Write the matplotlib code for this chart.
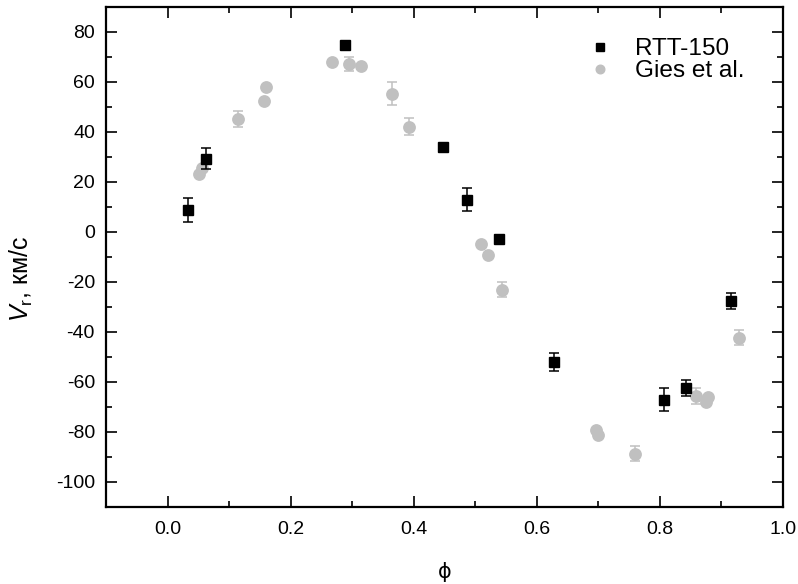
import numpy as np
import matplotlib
matplotlib.use("Agg")
import matplotlib.pyplot as plt
from matplotlib.ticker import MultipleLocator
from matplotlib.lines import Line2D

plt.rcParams['font.family'] = ['Liberation Sans', 'DejaVu Sans']
plt.rcParams['mathtext.fontset'] = 'custom'
plt.rcParams['mathtext.rm'] = 'Liberation Sans'
plt.rcParams['mathtext.it'] = 'Liberation Sans:italic'
plt.rcParams['axes.unicode_minus'] = False

# RTT-150 measurements (phase, radial velocity, error)
rtt_phase = [0.033, 0.063, 0.288, 0.448, 0.487, 0.539, 0.628, 0.807, 0.843, 0.915]
rtt_vr = [8.9, 29.3, 74.8, 34.1, 13.0, -2.8, -52.0, -67.1, -62.4, -27.5]
rtt_err = [4.9, 4.2, 0.0, 0.0, 4.7, 0.0, 3.6, 4.6, 3.3, 3.3]

# Gies et al. measurements
gies_phase = [0.051, 0.056, 0.115, 0.157, 0.160, 0.267, 0.295, 0.314, 0.365,
              0.393, 0.510, 0.521, 0.543, 0.696, 0.700, 0.759, 0.859, 0.875,
              0.878, 0.929]
gies_vr = [23.3, 25.6, 45.3, 52.4, 58.0, 68.2, 67.3, 66.4, 55.4,
           42.2, -4.7, -9.2, -23.0, -79.0, -81.2, -88.6, -65.5, -68.0,
           -65.9, -42.2]
gies_err = [0.0, 0.0, 3.1, 0.0, 0.0, 0.0, 2.9, 0.0, 4.6,
            3.3, 0.0, 0.0, 3.1, 0.0, 0.0, 3.1, 3.1, 0.0,
            0.0, 3.1]

grey = '#c0c0c0'

fig = plt.figure(figsize=(7.98, 5.84), dpi=100)
ax = fig.add_axes([106/798, 1 - 507/584, 677/798, 500/584])

ax.errorbar(gies_phase, gies_vr, yerr=gies_err, fmt='o', color=grey,
            ecolor=grey, ms=8.2, mec=grey, elinewidth=1.1, capsize=3.8,
            capthick=1.1, zorder=2)
ax.errorbar(rtt_phase, rtt_vr, yerr=rtt_err, fmt='s', color='black',
            ecolor='black', ms=7.7, elinewidth=1.1, capsize=3.8,
            capthick=1.1, zorder=3)

ax.set_xlim(-0.1, 1.0)
ax.set_ylim(-110, 90)
ax.xaxis.set_minor_locator(MultipleLocator(0.1))
ax.yaxis.set_major_locator(MultipleLocator(20))
ax.yaxis.set_minor_locator(MultipleLocator(10))
ax.set_xticks(np.arange(0.0, 1.01, 0.2))
ax.set_xticklabels(['0.0', '0.2', '0.4', '0.6', '0.8', '1.0'])

ax.tick_params(which='both', direction='in', top=True, right=True,
               labeltop=False, labelright=False, width=1.2, labelsize=14)
ax.tick_params(which='major', length=8)
ax.tick_params(which='minor', length=4.5)
ax.tick_params(axis='y', pad=8)
ax.tick_params(axis='x', pad=10)
for sp in ax.spines.values():
    sp.set_linewidth(1.6)

ax.set_xlabel('\u03d5', fontsize=15, family=['DejaVu Sans'])
ax.xaxis.set_label_coords(0.5, -0.11)
ax.set_ylabel(r'$V_{\rm r}$, км/с', fontsize=18)
ax.yaxis.set_label_coords(-0.105, 0.455)

handles = [Line2D([], [], ls='none', marker='s', color='black', ms=5.8),
           Line2D([], [], ls='none', marker='o', color=grey, ms=6.2)]
ax.legend(handles, ['RTT-150', 'Gies et al.'], loc='upper left',
          bbox_to_anchor=(0.713, 0.938), frameon=False, fontsize=17.6,
          handlelength=0.95, handletextpad=0.95, labelspacing=0.0,
          borderpad=0, borderaxespad=0)

fig.savefig('out.png', dpi=100)
